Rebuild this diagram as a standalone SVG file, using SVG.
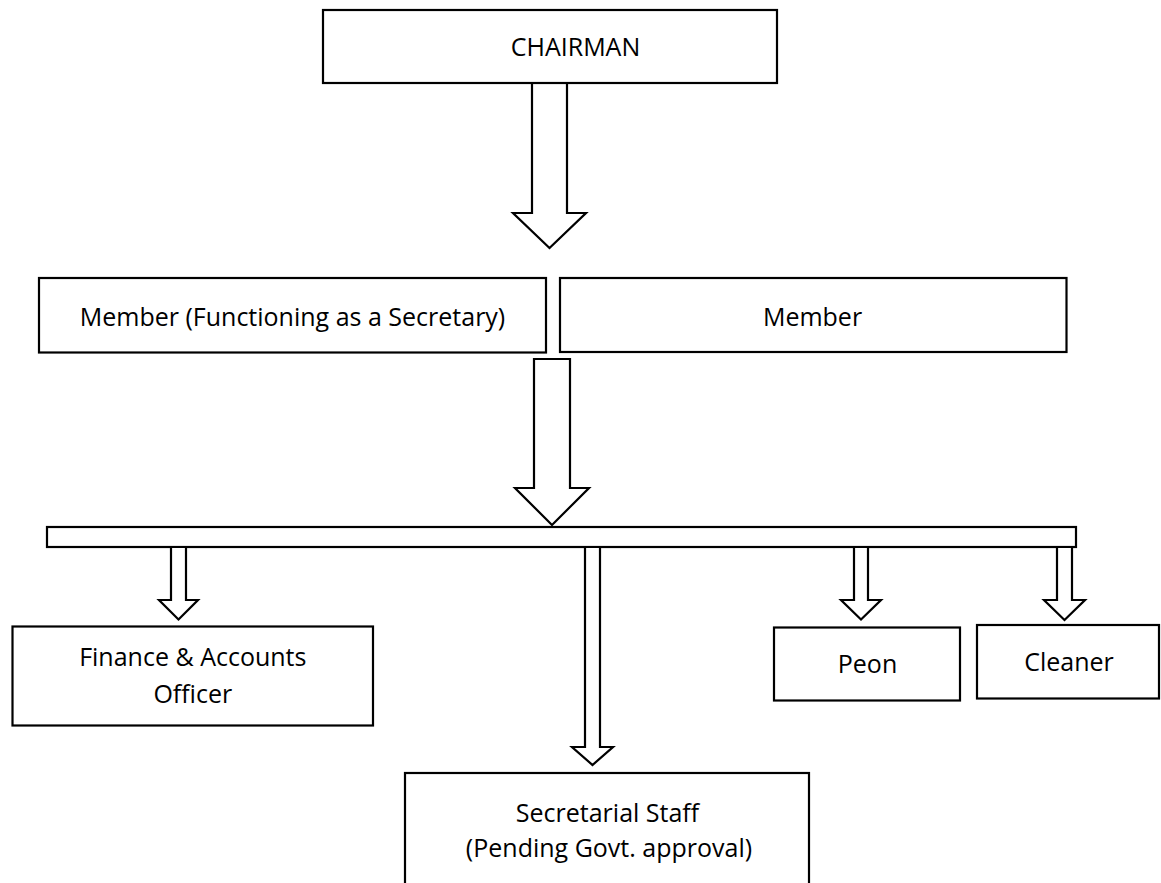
<svg xmlns="http://www.w3.org/2000/svg" width="1161" height="883" viewBox="0 0 1161 883">
<style>
.box{fill:#fff;stroke:#000;stroke-width:2.2}
.arr{fill:#fff;stroke:#000;stroke-width:2.2;stroke-linejoin:miter}
.t{font-family:"Open Sans","Liberation Sans",sans-serif;font-size:25px;fill:#000;text-anchor:middle}
</style>
<rect width="1161" height="883" fill="#fff"/>
<g id="connectors">
<polygon class="arr" points="532,83 567,83 567,213 586,213 549.5,248 513,213 532,213"/>
<polygon class="arr" points="534,359 570,359 570,488 589,488 552,525 515,488 534,488"/>
<rect id="bar" class="box" x="47" y="527" width="1029" height="20"/>
<polygon class="arr" points="171,547 186,547 186,600 198,600 178.5,619.5 159,600 171,600"/>
<polygon class="arr" points="585,547 600,547 600,747 613,747 592.5,765 572,747 585,747"/>
<polygon class="arr" points="854,547 868,547 868,600 881,600 861,619.5 841,600 854,600"/>
<polygon class="arr" points="1057,547 1072,547 1072,600 1085,600 1064.5,620 1044,600 1057,600"/>
</g>
<g id="chairman">
<rect class="box" x="323" y="10" width="454" height="73"/>
<text class="t" x="575.5" y="56">CHAIRMAN</text>
</g>
<g id="member-secretary">
<rect class="box" x="39" y="278" width="507" height="74.5"/>
<text class="t" x="292.5" y="326">Member (Functioning as a Secretary)</text>
</g>
<g id="member">
<rect class="box" x="560" y="278" width="506.5" height="74"/>
<text class="t" x="812.5" y="326">Member</text>
</g>
<g id="finance">
<rect class="box" x="12.5" y="626.5" width="360.5" height="99"/>
<text class="t" x="192.8" y="666">Finance &amp; Accounts</text>
<text class="t" x="192.8" y="703">Officer</text>
</g>
<g id="secretarial">
<rect class="box" x="405" y="773" width="404" height="130"/>
<text class="t" x="607.5" y="822">Secretarial Staff</text>
<text class="t" x="609" y="857">(Pending Govt. approval)</text>
</g>
<g id="peon">
<rect class="box" x="774" y="627.5" width="186" height="73"/>
<text class="t" x="867.5" y="673">Peon</text>
</g>
<g id="cleaner">
<rect class="box" x="977" y="625" width="182" height="73.5"/>
<text class="t" x="1069" y="671">Cleaner</text>
</g>
</svg>
